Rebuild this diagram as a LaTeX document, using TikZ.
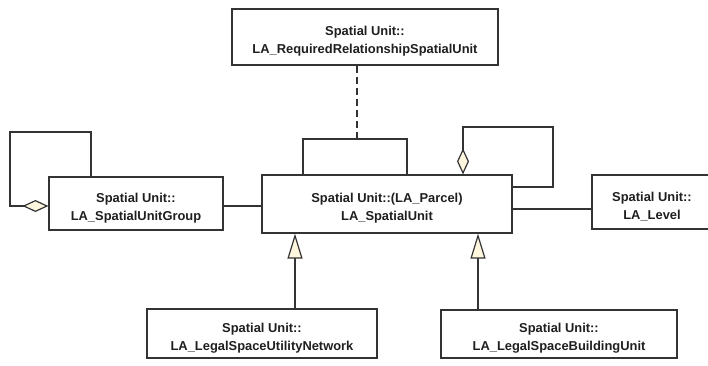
\documentclass[tikz,border=0pt]{standalone}
\usepackage{fontspec}
\setmainfont{Liberation Sans}
\usetikzlibrary{arrows.meta}
\definecolor{ln}{HTML}{333333}
\definecolor{cream}{HTML}{FFF6DE}
\tikzset{
  cls/.style={draw=ln, line width=1.2pt, fill=white, inner sep=0pt},
  lbl/.style={align=center, inner sep=0pt, yshift=-4.5pt,
    font=\bfseries\fontsize{12.9}{18}\selectfont, text=black!88},
  conn/.style={draw=ln, line width=1.2pt},
  gen/.style={conn, -{Triangle[length=25pt,width=15pt,fill=cream]}},
  agg/.style={conn, {Diamond[length=26pt,width=12pt,fill=cream]}-},
}
\begin{document}
\begin{tikzpicture}[x=1pt,y=-1pt]
\useasboundingbox (0,0) rectangle (708,365);
\node[cls, minimum width=266pt, minimum height=56pt,
  label={[lbl]center:Spatial Unit::\\LA\_RequiredRelationshipSpatialUnit}] (req) at (365,37) {};
\node[cls, minimum width=250pt, minimum height=58pt,
  label={[lbl]center:Spatial Unit::(LA\_Parcel)\\LA\_SpatialUnit}] (su) at (387,204) {};
\node[cls, minimum width=174pt, minimum height=53pt,
  label={[lbl]center:Spatial Unit::\\LA\_SpatialUnitGroup}] (grp) at (136,203.5) {};
\node[cls, minimum width=120pt, minimum height=54pt,
  label={[lbl]center:Spatial Unit::\\LA\_Level}] (lvl) at (652,202) {};
\node[cls, minimum width=230pt, minimum height=49pt,
  label={[lbl]center:Spatial Unit::\\LA\_LegalSpaceUtilityNetwork}] (uti) at (262,333.5) {};
\node[cls, minimum width=236pt, minimum height=48pt,
  label={[lbl]center:Spatial Unit::\\LA\_LegalSpaceBuildingUnit}] (bld) at (559,334) {};
% coordinates
\coordinate (xa) at (303,0);
\coordinate (xb) at (407,0);
\coordinate (xd) at (357,0);
\coordinate (xm) at (463,0);
\coordinate (xg1) at (91,0);
\coordinate (xu) at (295,0);
\coordinate (xbu) at (478,0);
\coordinate (yg) at (0,206);
\coordinate (yl) at (0,209);
\coordinate (ym) at (0,187);
\coordinate (loopmid) at (357,139);
% self association with association class
\draw[conn] (su.north -| xa) |- (loopmid) -| (su.north -| xb);
\draw[conn, dashed, dash pattern=on 7pt off 4pt] (req.south -| xd) -- (loopmid);
% aggregation self loop of spatial unit
\draw[agg] (su.north -| xm) -- (463,127) -- (553,127) -- (553,187) -- (su.east |- ym);
% aggregation self loop of group
\draw[agg] (grp.west |- yg) -- (10,206) -- (10,132) -- (91,132) -- (grp.north -| xg1);
% associations
\draw[conn] (grp.east |- yg) -- (su.west |- yg);
\draw[conn] (su.east |- yl) -- (lvl.west |- yl);
% generalizations
\draw[gen] (uti.north -| xu) -- (su.south -| xu);
\draw[gen] (bld.north -| xbu) -- (su.south -| xbu);
\end{tikzpicture}
\end{document}
